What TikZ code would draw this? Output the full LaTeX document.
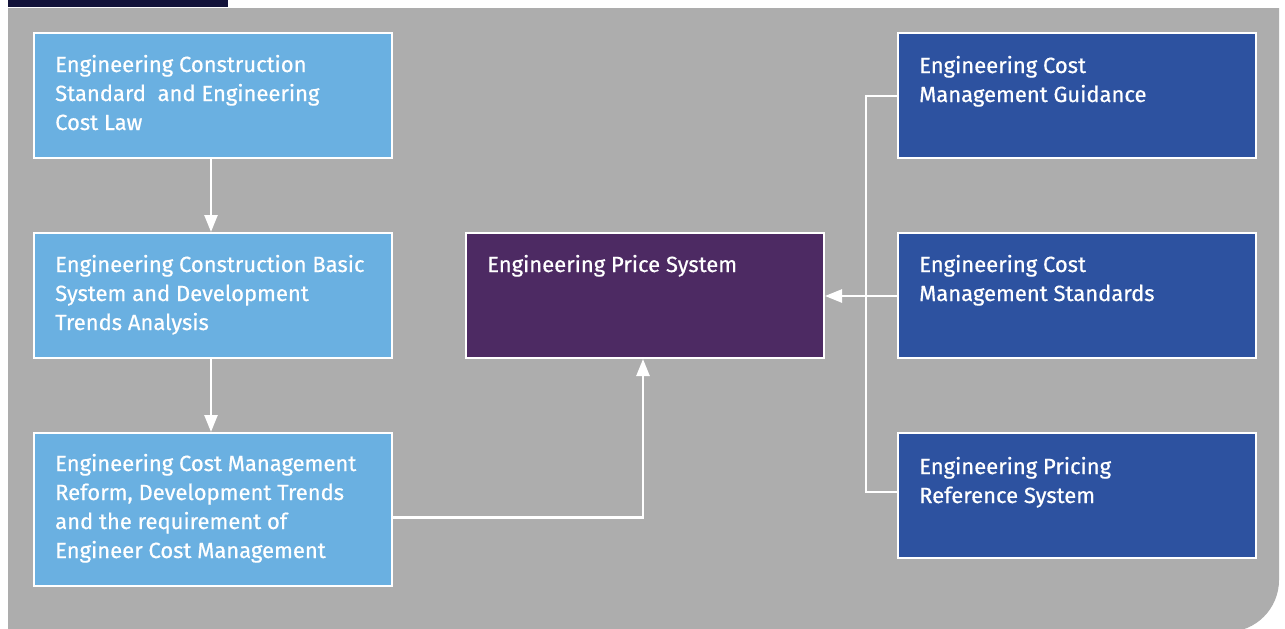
\documentclass[tikz,border=0pt]{standalone}
\usepackage{fontspec}
\setmainfont{Fira Sans}[FakeBold=0.6]
\usetikzlibrary{arrows.meta}
\definecolor{bggray}{HTML}{ADADAD}
\definecolor{tabnavy}{HTML}{13133A}
\definecolor{lightblue}{HTML}{6AB0E1}
\definecolor{darkblue}{HTML}{2D52A0}
\definecolor{purplebox}{HTML}{4D2A63}
\tikzset{
  x=1pt, y=-1pt,
  box/.style={draw=white, line width=2pt, minimum width=358pt, minimum height=125pt, inner sep=0pt, anchor=north west},
  lbox/.style={box, fill=lightblue},
  dbox/.style={box, fill=darkblue},
  pbox/.style={box, fill=purplebox},
  txt/.style={anchor=base west, inner sep=0pt, text=white, font=\fontsize{22}{29}\selectfont},
  conn/.style={draw=white, line width=2.5pt},
  arr/.style={conn, -{Triangle[width=13pt,length=17pt]}},
}
\newcommand{\boxtext}[1]{\parbox[t]{345pt}{\raggedright #1}}
\begin{document}
\begin{tikzpicture}
\useasboundingbox (0,0) rectangle (1285,629);
\fill[white] (0,0) rectangle (1285,629);
\fill[bggray] (8,8) -- (1279,8) -- (1279,580) arc[start angle=0, end angle=90, radius=52] -- (8,632) -- cycle;
\fill[tabnavy] (8,0) rectangle (228,7);
% left column
\node[lbox] (a) at (33,32) {};
\node[lbox] (b) at (33,232) {};
\node[lbox, minimum height=153pt] (c) at (33,432) {};
% centre
\node[pbox] (p) at (465,232) {};
% right column
\node[dbox] (r1) at (897,32) {};
\node[dbox] (r2) at (897,232) {};
\node[dbox] (r3) at (897,432) {};
% texts
\node[txt] (ta) at ([shift={(22,40)}]a.north west) {\boxtext{Engineering Construction\\Standard\ \ and Engineering\\Cost Law}};
\node[txt] (tb) at ([shift={(22,40)}]b.north west) {\boxtext{Engineering Construction Basic\\System and Development\\Trends Analysis}};
\node[txt] (tc) at ([shift={(22,39)}]c.north west) {\boxtext{Engineering Cost Management\\Reform, Development Trends\\and the requirement of\\Engineer Cost Management}};
\node[txt] (tp) at ([shift={(22,40)}]p.north west) {\boxtext{Engineering Price System}};
\node[txt] (tr1) at ([shift={(22,41)}]r1.north west) {\boxtext{Engineering Cost\\Management Guidance}};
\node[txt] (tr2) at ([shift={(22,40)}]r2.north west) {\boxtext{Engineering Cost\\Management Standards}};
\node[txt] (tr3) at ([shift={(22,42)}]r3.north west) {\boxtext{Engineering Pricing\\Reference System}};
% connectors
\draw[arr] ([xshift=-2pt]a.south) -- ([xshift=-2pt]b.north);
\draw[arr] ([xshift=-2pt]b.south) -- ([xshift=-2pt]c.north);
\coordinate (cm) at ([yshift=-8pt]c.east);
\draw[arr] (cm) -| ([xshift=-2pt]p.south);
\coordinate (spine) at ([xshift=-31pt]r2.west);
\draw[conn] (r1.west |- 0,96) -| (spine |- 0,492) -- (r3.west |- 0,492);
\draw[arr] (r2.west |- 0,296) -- (p.east |- 0,296);
\end{tikzpicture}
\end{document}
